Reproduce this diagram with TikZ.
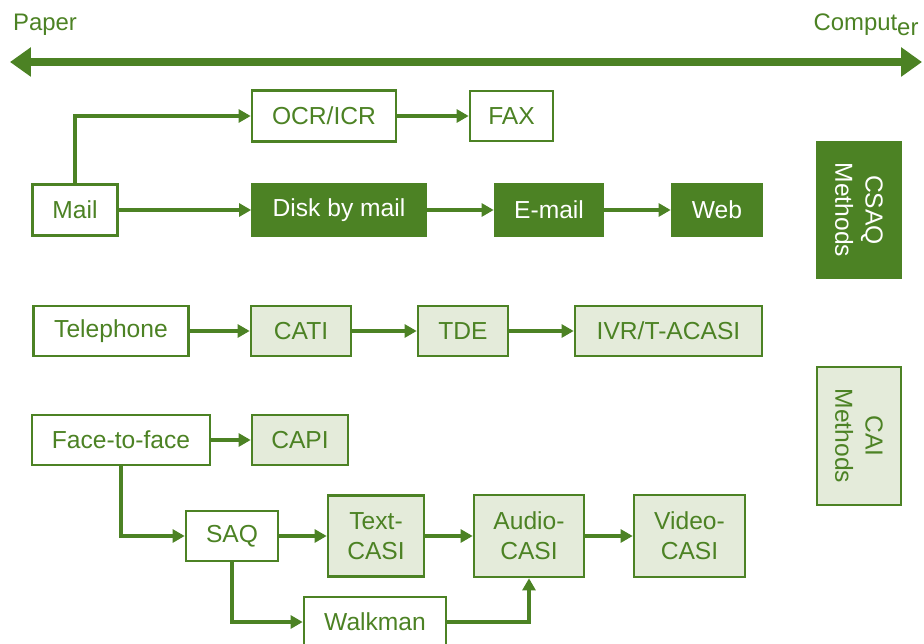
\documentclass[tikz,border=0pt]{standalone}
\usepackage{fontspec}
\setmainfont{Liberation Sans}
\usepackage{tikz}
\usetikzlibrary{arrows.meta}
\definecolor{dkgreen}{RGB}{76,130,36}
\definecolor{ltgreen}{RGB}{228,235,218}
\tikzset{
 box/.style={draw=dkgreen, line width=1.8pt, text=dkgreen, align=center, inner sep=1pt,
  font=\fontsize{17.5}{21.5}\selectfont},
 paperbox/.style={box, fill=white},
 csaqbox/.style={box, fill=dkgreen, text=white},
 caibox/.style={box, fill=ltgreen},
 link/.style={draw=dkgreen, line width=3pt, -{Triangle[length=0.3cm,width=0.32cm]}}
}

\begin{document}
\begin{tikzpicture}[x=0.025cm, y=-0.025cm]
\useasboundingbox (0,0) rectangle (924,643);
% paper -> computer axis
\node[text=dkgreen, font=\fontsize{17}{19}\selectfont] (paper) at (45,25) {Paper};
\node[text=dkgreen, font=\fontsize{17}{19}\selectfont] (computer) at (866,25) {Comput\raisebox{-3pt}{er}};
\coordinate (lft) at (10,62);
\coordinate (rgt) at (922,62);
\draw[dkgreen, line width=5.5pt, {Triangle[length=0.52cm,width=0.7cm]}-{Triangle[length=0.52cm,width=0.7cm]}] (lft)--(rgt);
% mail row
\node[paperbox, minimum width=2.125cm, minimum height=1.275cm] (mail) at (75,210) {Mail};
\node[paperbox, minimum width=3.6cm, minimum height=1.275cm] (ocr) at (324,116) {OCR/ICR};
\node[paperbox, minimum width=2.075cm, minimum height=1.25cm] (fax) at (511.5,116) {FAX};
\node[csaqbox, minimum width=4.325cm, minimum height=1.275cm] (disk) at (339,210) {Disk by mail};
\node[csaqbox, minimum width=2.7cm, minimum height=1.275cm] (email) at (549,210) {E-mail};
\node[csaqbox, minimum width=2.25cm, minimum height=1.275cm] (web) at (717,210) {Web};
% telephone row
\node[paperbox, minimum width=3.875cm, minimum height=1.25cm] (phone) at (111,331) {Telephone};
\node[caibox, minimum width=2.5cm, minimum height=1.25cm] (cati) at (301,331) {CATI};
\node[caibox, minimum width=2.25cm, minimum height=1.25cm] (tde) at (463,331) {TDE};
\node[caibox, minimum width=4.675cm, minimum height=1.25cm] (ivr) at (668.5,331) {IVR/T-ACASI};
% face-to-face rows
\node[paperbox, minimum width=4.45cm, minimum height=1.25cm] (face) at (121,440) {Face-to-face};
\node[caibox, minimum width=2.4cm, minimum height=1.25cm] (capi) at (300,440) {CAPI};
\node[paperbox, minimum width=2.3cm, minimum height=1.25cm] (saq) at (232,536) {SAQ};
\node[caibox, minimum width=2.4cm, minimum height=2.025cm] (tcasi) at (376,536) {Text-\\CASI};
\node[caibox, minimum width=2.75cm, minimum height=2.05cm] (acasi) at (529,536) {Audio-\\CASI};
\node[caibox, minimum width=2.775cm, minimum height=2.05cm] (vcasi) at (689.5,536) {Video-\\CASI};
\node[paperbox, minimum width=3.55cm, minimum height=1.25cm] (walkman) at (375,622) {Walkman};
% legend
\node[csaqbox, rotate=-90, minimum width=3.375cm, minimum height=2.1cm] (csaq) at (859,210) {CSAQ\\Methods};
\node[caibox, rotate=-90, minimum width=3.45cm, minimum height=2.1cm] (cai) at (859,436) {CAI\\Methods};
% links
\draw[link] (mail.north) |- (ocr.west);
\draw[link] (ocr) -- (fax);
\draw[link] (mail) -- (disk);
\draw[link] (disk) -- (email);
\draw[link] (email) -- (web);
\draw[link] (phone) -- (cati);
\draw[link] (cati) -- (tde);
\draw[link] (tde) -- (ivr);
\draw[link] (face) -- (capi);
\draw[link] (face.south) |- (saq.west);
\draw[link] (saq) -- (tcasi);
\draw[link] (tcasi) -- (acasi);
\draw[link] (acasi) -- (vcasi);
\draw[link] (saq.south) |- (walkman.west);
\draw[link] (walkman.east) -| (acasi.south);
\end{tikzpicture}
\end{document}
